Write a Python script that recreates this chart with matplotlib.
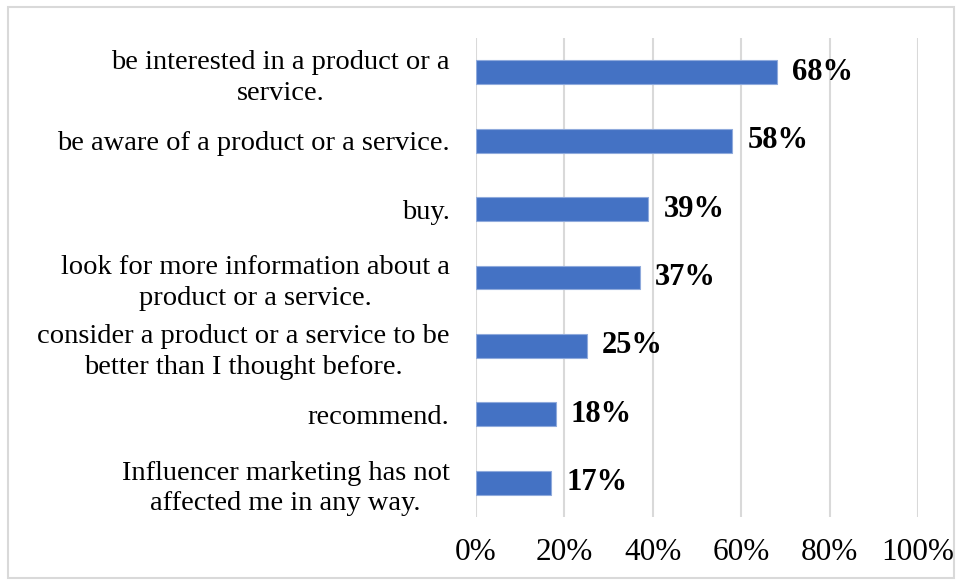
import matplotlib.pyplot as plt
from matplotlib.patches import Rectangle

labels = [
    "be interested in a product or a\nservice.",
    "be aware of a product or a service.",
    "buy.",
    "look for more information about a\nproduct or a service.",
    "consider a product or a service to be\nbetter than I thought before.",
    "recommend.",
    "Influencer marketing has not\naffected me in any way.",
]
values = [68, 58, 39, 37, 25, 18, 17]
xticks = [0, 20, 40, 60, 80, 100]

plt.rcParams['font.family'] = ['Liberation Serif', 'DejaVu Serif']

fig = plt.figure(figsize=(9.58, 5.81), dpi=100)
ax = fig.add_axes([0.4969, 0.1102, 0.4613, 0.8244])

# outer frame of the chart area
fig.patches.append(Rectangle((0.008, 0.005), 0.988, 0.983, transform=fig.transFigure,
                             fill=False, edgecolor='#d9d9d9', linewidth=1.5))

n = len(values)
ypos = list(range(n - 1, -1, -1))
ax.barh(ypos, values, height=0.35, color='#4472C4', edgecolor='#8faadc', linewidth=0.8, zorder=3)

for y, v in zip(ypos, values):
    ax.text(v + 3.4, y, "%d%%" % v, va='center', ha='left', fontsize=22, fontweight='bold')

ax.set_xlim(0, 100)
ax.set_ylim(-0.5, n - 0.5)
ax.set_xticks(xticks)
ax.set_xticklabels(["%d%%" % t for t in xticks], fontsize=22.5)
ax.set_yticks(ypos)
ax.set_yticklabels(labels, fontsize=20.5, linespacing=1.3)
for t in ax.get_yticklabels():
    t.set_multialignment('center')
ax.tick_params(axis='y', length=0, pad=19)
ax.tick_params(axis='x', length=0, pad=15)
ax.grid(axis='x', color='#d9d9d9', linewidth=1.5, zorder=0)
for s in ax.spines.values():
    s.set_visible(False)

fig.savefig("out.png", dpi=100)
